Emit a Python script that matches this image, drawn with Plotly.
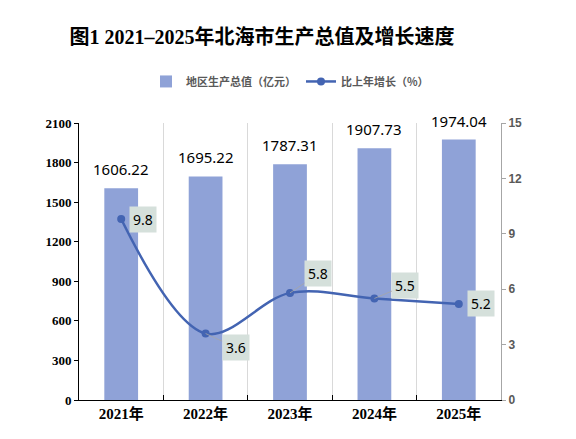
import plotly.graph_objects as go

# data
years = ["2021年", "2022年", "2023年", "2024年", "2025年"]
gdp = [1606.22, 1695.22, 1787.31, 1907.73, 1974.04]
growth = [9.8, 3.6, 5.8, 5.5, 5.2]

BAR_COLOR = "#8FA2D7"
LINE_COLOR = "#4364B2"

# the page puts the figure 8px in from the window corner
W, H = 568, 431

# label box offsets (px) from each point and whether a leader line is drawn
label_offsets = [(22, 0, False), (30, 14, True), (28, -19, True), (31, -13, True), (22, 0, False)]

fig = go.Figure()

fig.add_trace(go.Bar(
    x=years, y=gdp,
    name="<b>地区生产总值（亿元）</b>",
    marker=dict(color=BAR_COLOR, line=dict(width=0)),
    width=0.4,
))

fig.add_trace(go.Scatter(
    x=years, y=growth,
    name="<b>比上年增长（%）</b>",
    yaxis="y2",
    mode="lines+markers",
    line=dict(color=LINE_COLOR, width=2.5, shape="spline", smoothing=1.0),
    marker=dict(color=LINE_COLOR, size=8),
))

# value labels above the bars, lifted a little off the bar tops
for yr, v in zip(years, gdp):
    fig.add_annotation(
        x=yr, y=v, xref="x", yref="y",
        text=f"{v:.2f}", showarrow=False,
        yanchor="bottom", yshift=7,
        font=dict(family="Noto Sans", size=15, color="#000000"),
    )

for yr, g, (dx, dy, leader) in zip(years, growth, label_offsets):
    fig.add_annotation(
        x=yr, y=g, xref="x", yref="y2",
        text=f"{g:.1f}",
        showarrow=True, ax=dx, ay=dy,
        arrowhead=0, arrowwidth=0.8, standoff=0,
        arrowcolor="#A6A6A6" if leader else "rgba(0,0,0,0)",
        bgcolor="#D5E0DB",
        borderpad=3,
        font=dict(family="Noto Sans", size=14, color="#000000"),
    )

fig.update_layout(
    width=W, height=H,
    margin=dict(l=71, r=75, t=115, b=39),
    paper_bgcolor="white", plot_bgcolor="white",
    title=dict(
        text="<b>图1 2021–2025年北海市生产总值及增长速度</b>",
        x=254 / W, xanchor="center", xref="container",
        y=1 - 29 / H, yanchor="middle", yref="container",
        font=dict(family="Liberation Serif, Noto Sans CJK SC", size=20, color="#000000"),
    ),
    showlegend=True,
    legend=dict(
        orientation="h",
        x=0.50, xanchor="center",
        y=1.15, yanchor="middle",
        font=dict(family="Noto Sans CJK SC", size=11, color="#595959", weight=700),
        itemwidth=30,
    ),
    bargap=0.6,
    xaxis=dict(
        tickson="boundaries",
        ticks="inside", ticklen=5, tickcolor="#000000",
        showgrid=True, gridcolor="#D9D9D9", gridwidth=1,
        showline=True, linecolor="#000000", linewidth=1,
        tickfont=dict(family="Liberation Serif, Noto Sans CJK SC", size=15, color="#000000", weight=700),
        fixedrange=True,
    ),
    yaxis=dict(
        range=[0, 2100], dtick=300,
        showgrid=False, zeroline=False,
        showline=True, linecolor="#000000", linewidth=1,
        ticks="outside", ticklen=4, tickcolor="#000000",
        tickfont=dict(family="Liberation Serif", size=13, color="#000000", weight=700),
        tickformat="d",
    ),
    yaxis2=dict(
        range=[0, 15], dtick=3,
        overlaying="y", side="right",
        showgrid=False, zeroline=False,
        showline=True, linecolor="#A6A6A6", linewidth=1,
        ticks="outside", ticklen=4, tickcolor="#A6A6A6",
        tickfont=dict(family="Liberation Sans", size=12, color="#595959", weight=700),
    ),
)

fig.write_html("out.html")
